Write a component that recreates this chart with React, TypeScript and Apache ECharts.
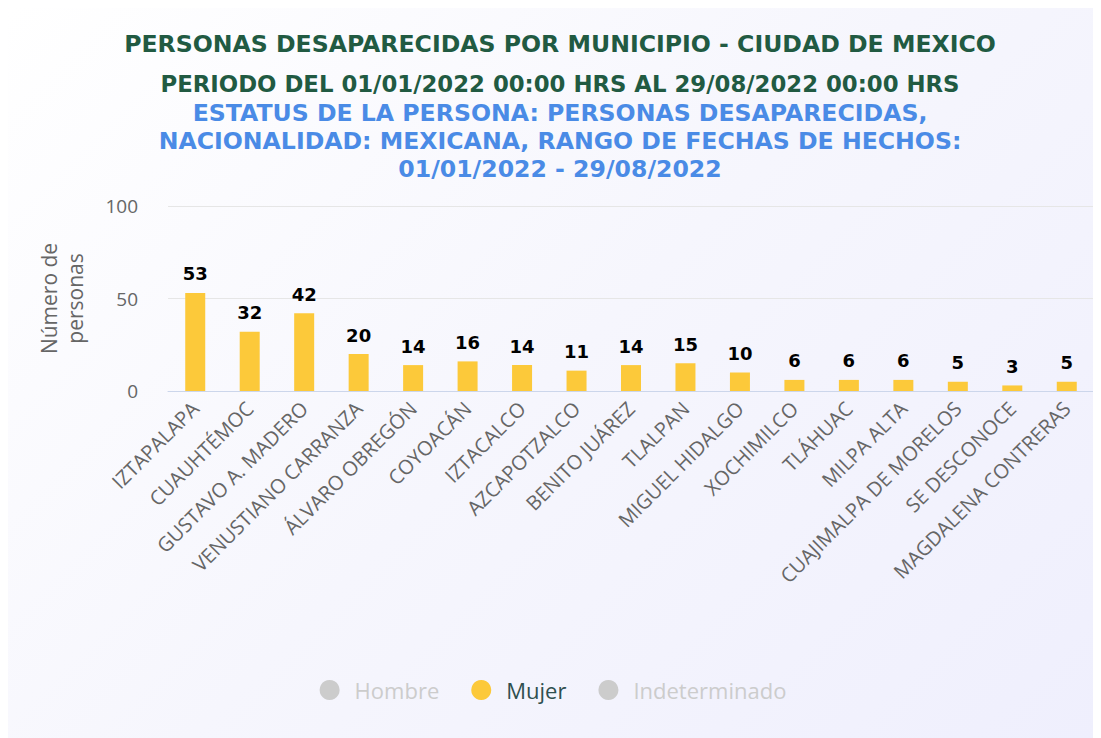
import React, { useEffect, useRef } from "react";
import * as echarts from "echarts";

const categories = [
  "IZTAPALAPA",
  "CUAUHTÉMOC",
  "GUSTAVO A. MADERO",
  "VENUSTIANO CARRANZA",
  "ÁLVARO OBREGÓN",
  "COYOACÁN",
  "IZTACALCO",
  "AZCAPOTZALCO",
  "BENITO JUÁREZ",
  "TLALPAN",
  "MIGUEL HIDALGO",
  "XOCHIMILCO",
  "TLÁHUAC",
  "MILPA ALTA",
  "CUAJIMALPA DE MORELOS",
  "SE DESCONOCE",
  "MAGDALENA CONTRERAS",
];
const mujer = [53, 32, 42, 20, 14, 16, 14, 11, 14, 15, 10, 6, 6, 6, 5, 3, 5];
const hombre: number[] = [];
const indeterminado: number[] = [];
const yTicks = { min: 0, max: 100, interval: 50 };

const titleLines = [
  "PERSONAS DESAPARECIDAS POR MUNICIPIO - CIUDAD DE MEXICO",
  "PERIODO DEL 01/01/2022 00:00 HRS AL 29/08/2022 00:00 HRS",
];
const subLines = [
  "ESTATUS DE LA PERSONA: PERSONAS DESAPARECIDAS,",
  "NACIONALIDAD: MEXICANA, RANGO DE FECHAS DE HECHOS:",
  "01/01/2022 - 29/08/2022",
];

export default function App() {
  const ref = useRef<HTMLDivElement>(null);
  useEffect(() => {
    if (!ref.current) return;
    const chart = echarts.init(ref.current, undefined, { renderer: "svg" });
    const titleSizes = [23.6, 22.8];
    chart.setOption({
      animation: false,
      backgroundColor: "transparent",
      title: [
        ...titleLines.map((t, i) => ({
          text: t,
          left: 552,
          textAlign: "center",
          top: 22 + i * 40,
          padding: 0,
          textStyle: {
            fontFamily: "DejaVu Sans",
            fontWeight: "bold",
            fontSize: titleSizes[i],
            lineHeight: 28,
            color: "#215a42",
          },
        })),
        ...subLines.map((t, i) => ({
          text: t,
          left: 552,
          textAlign: "center",
          top: 91 + i * 28,
          padding: 0,
          textStyle: {
            fontFamily: "DejaVu Sans",
            fontWeight: "bold",
            fontSize: 23.6,
            lineHeight: 28,
            color: "#4a8be6",
          },
        })),
      ],
      legend: {
        bottom: 32,
        left: "center",
        icon: "circle",
        itemWidth: 20,
        itemHeight: 20,
        itemGap: 32,
        inactiveColor: "#cccccc",
        selected: { Hombre: false, Mujer: true, Indeterminado: false },
        textStyle: {
          fontFamily: "Open Sans",
          fontSize: 22,
          color: "#2f4f4f",
          padding: [0, 0, 0, 10],
        },
        data: ["Hombre", "Mujer", "Indeterminado"],
      },
      grid: { left: 160, right: 4, top: 198, bottom: 347, containLabel: false },
      xAxis: {
        type: "category",
        data: categories,
        axisLine: { lineStyle: { color: "#ccd6eb", width: 1 } },
        axisTick: { show: false },
        axisLabel: {
          rotate: 45,
          interval: 0,
          margin: 14,
          color: "#666666",
          fontFamily: "Open Sans",
          fontSize: 20,
        },
      },
      yAxis: {
        type: "value",
        min: yTicks.min,
        max: yTicks.max,
        interval: yTicks.interval,
        name: "Número de\npersonas",
        nameLocation: "middle",
        nameGap: 80,
        nameRotate: 90,
        nameTextStyle: {
          color: "#666666",
          fontFamily: "Open Sans",
          fontSize: 21,
          lineHeight: 26,
        },
        axisLine: { show: false },
        axisTick: { show: false },
        splitLine: { lineStyle: { color: "#e6e6e6" } },
        axisLabel: {
          color: "#666666",
          fontFamily: "Open Sans",
          fontSize: 19,
          margin: 30,
        },
      },
      series: [
        { name: "Hombre", type: "bar", data: hombre, itemStyle: { color: "#c8c8c8" } },
        {
          name: "Mujer",
          type: "bar",
          data: mujer,
          barWidth: 20,
          itemStyle: { color: "#fcc93a" },
          label: {
            show: true,
            position: "top",
            distance: 10,
            color: "#000000",
            fontFamily: "DejaVu Sans",
            fontWeight: "bold",
            fontSize: 18,
          },
        },
        { name: "Indeterminado", type: "bar", data: indeterminado, itemStyle: { color: "#c8c8c8" } },
      ],
    });
    return () => chart.dispose();
  }, []);
  return (
    <div
      ref={ref}
      style={{
        width: 1090,
        height: 730,
        background: "linear-gradient(135deg, #ffffff 0%, #f6f6fd 50%, #efeffd 100%)",
      }}
    />
  );
}
